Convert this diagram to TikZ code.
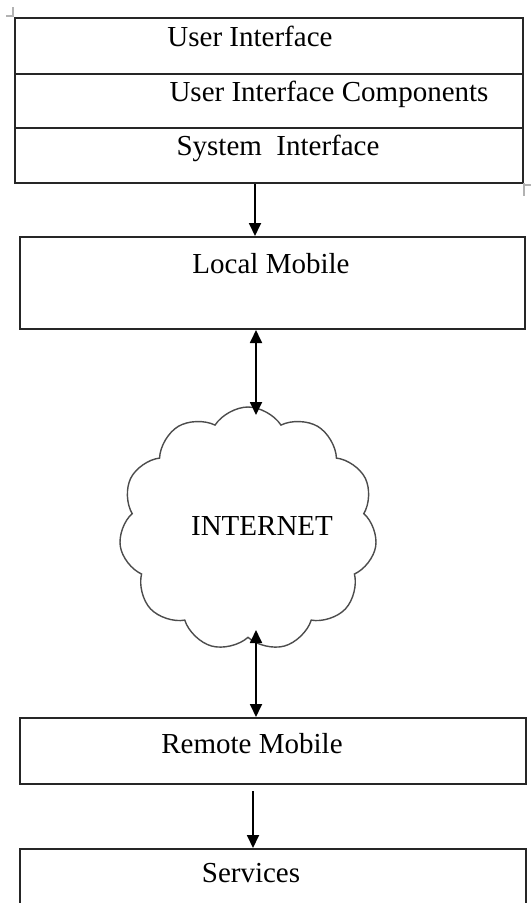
\documentclass[tikz,border=0pt]{standalone}
\usepackage{fontspec}
\setmainfont{Liberation Serif}
\usetikzlibrary{arrows.meta,shapes.symbols}
\tikzset{
  box/.style={draw=black!85, line width=2pt, rectangle, inner sep=0pt, minimum width=508pt},
  lbl/.style={anchor=base, inner sep=0pt, font=\fontsize{29}{34}\selectfont},
  arr/.style={-{Triangle[width=12pt,length=13pt]}, line width=1.8pt},
  arrboth/.style={{Triangle[width=12pt,length=13pt]}-{Triangle[width=12pt,length=13pt]}, line width=1.8pt},
  pagemark/.style={draw=black!30, line width=1.2pt}
}
\begin{document}
\begin{tikzpicture}[x=1pt,y=-1pt]
  \useasboundingbox (0,0) rectangle (531,903);
  \clip (0,0) rectangle (531,903);
  % stacked interface box
  \node[box, minimum height=56pt] (ui) at (269,46) {};
  \node[box, minimum height=54pt] (uic) at (269,101) {};
  \node[box, minimum height=55pt] (si) at (269,155.5) {};
  \node[lbl] (uit) at (250,46) {User Interface};
  \node[lbl] (uict) at (329,101) {User Interface Components};
  \node[lbl] (sit) at (278,155) {System\ \ Interface};
  % mobiles and services
  \node[box, minimum width=505pt, minimum height=92pt] (lm) at (272.5,283) {};
  \node[lbl] (lmt) at (271,273) {Local Mobile};
  \node[box, minimum width=506pt, minimum height=66pt] (rm) at (273,751) {};
  \node[lbl] (rmt) at (252,753) {Remote Mobile};
  \node[box, minimum width=506pt, minimum height=62pt] (sv) at (273,880) {};
  \node[lbl] (svt) at (251,882) {Services};
  % cloud
  \node[cloud, cloud puffs=11, cloud puff arc=115, draw=black!70, line width=1.4pt,
        minimum width=258pt, minimum height=244pt, aspect=1.06] (net) at (248,529) {};
  \node[lbl] (nett) at (262,535) {INTERNET};
  \coordinate (ntop) at (256,415);
  \coordinate (nbot) at (256,630);
  % connectors
  \draw[arr] ([xshift=-14pt]si.south) -- ([xshift=-14pt]si.south |- lm.north);
  \draw[arrboth] ([xshift=-16.5pt]lm.south) -- (ntop);
  \draw[arrboth] (nbot) -- (nbot |- rm.north);
  \draw[arr, shorten <=6pt] ([xshift=-20pt]rm.south) -- ([xshift=-20pt]sv.north);
  % page marks
  \draw[pagemark] (6,16) -- (13,16) -- (13,7);
  \draw[pagemark] (524,183) -- (524,196);
  \draw[pagemark] (524,185) -- (531,185);
\end{tikzpicture}
\end{document}
